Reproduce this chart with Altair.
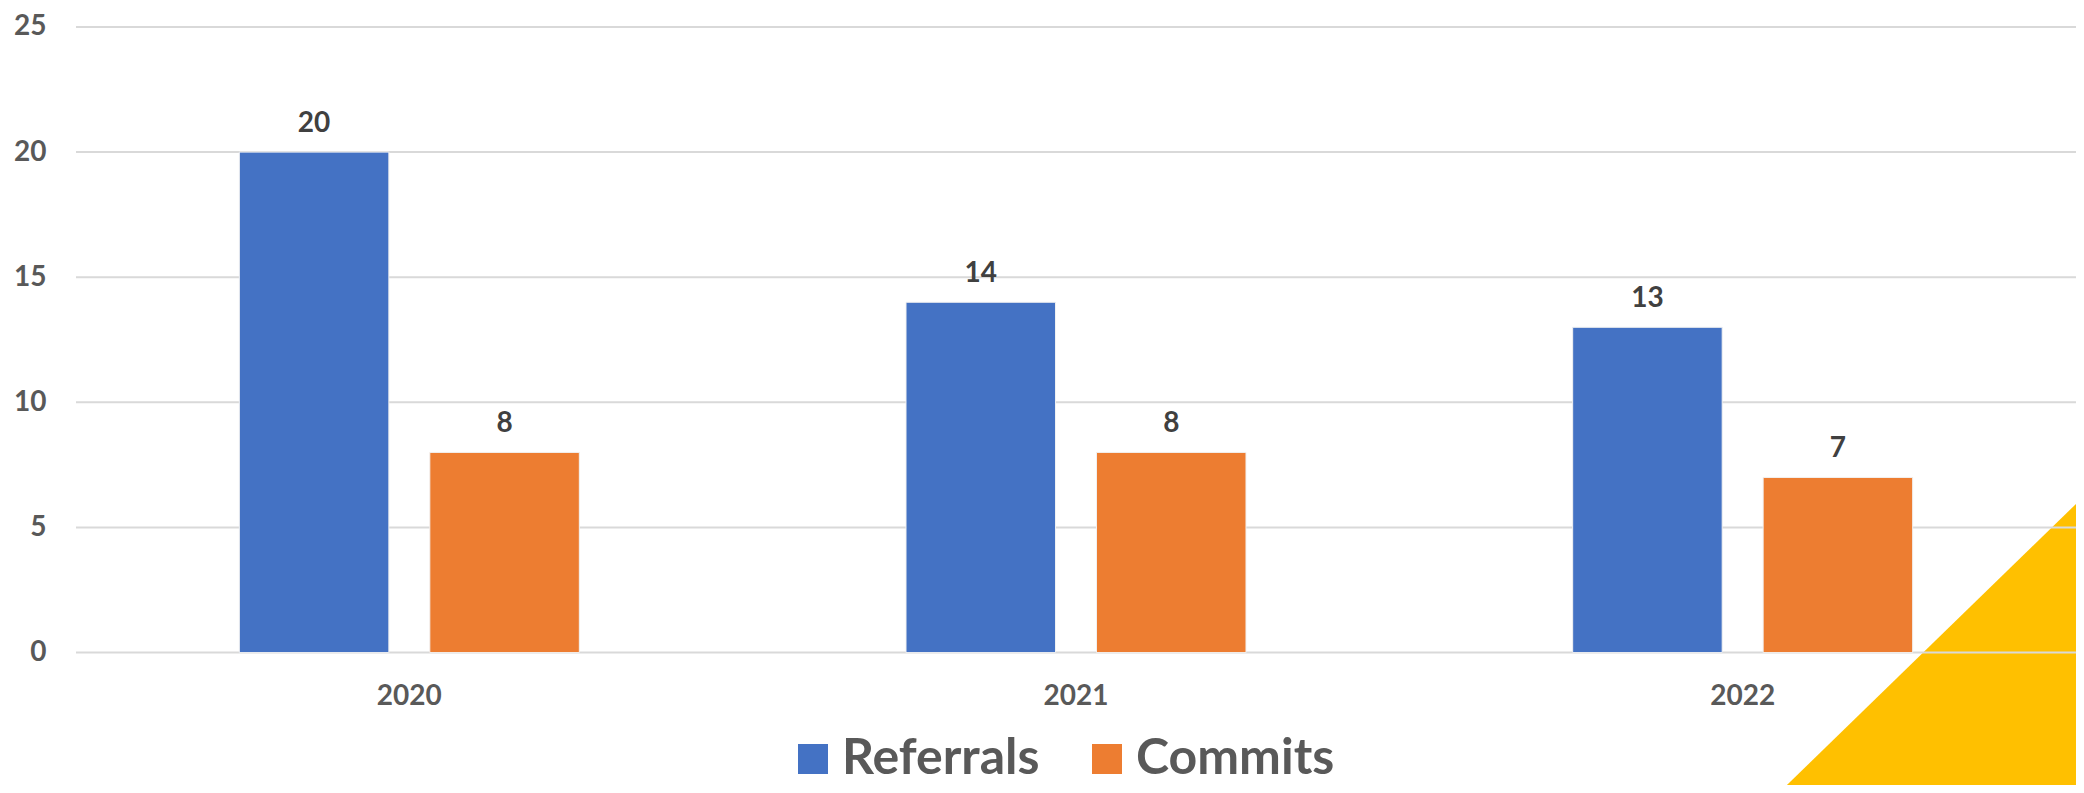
import altair as alt
import pandas as pd

# ---- data ----
years = ["2020", "2021", "2022"]
series = ["Referrals", "Commits"]
referrals = [20, 14, 13]
commits = [8, 8, 7]
colors = ["#4472C4", "#ED7D31"]
y_ticks = [0, 5, 10, 15, 20, 25]

# decorative yellow corner triangle (x as fraction of plot width, y in value units)
deco_x = [0.8515, 1.0]
deco_top = [-5.6, 5.94]
deco_bottom = [-5.6, -5.6]

rows = []
for i, yr in enumerate(years):
    rows.append({"year": yr, "series": "Referrals", "value": referrals[i]})
    rows.append({"year": yr, "series": "Commits", "value": commits[i]})
df = pd.DataFrame(rows)
tri = pd.DataFrame({"tx": deco_x, "top": deco_top, "bottom": deco_bottom})
grid_df = pd.DataFrame({"tick": y_ticks})

FONT = "Lato"
W, H = 2000, 625.6

yscale = alt.Scale(domain=[0, 25], nice=False, zero=True)
yaxis = alt.Axis(
    title=None, values=y_ticks, grid=False,
    domain=False, ticks=False, tickSize=0, labelPadding=30,
    labelFont=FONT, labelFontSize=28, labelFontWeight="bold", labelColor="#595959",
)
xaxis = alt.Axis(
    title=None, labelAngle=0, domain=False, ticks=False, tickSize=0, grid=False,
    labelPadding=30, labelBaseline="top",
    labelFont=FONT, labelFontSize=28, labelFontWeight="bold", labelColor="#595959",
)

base = alt.Chart(df).encode(
    x=alt.X("year:N", sort=years, scale=alt.Scale(paddingInner=0.49, paddingOuter=0.245), axis=xaxis),
    xOffset=alt.XOffset("series:N", sort=series,
                        scale=alt.Scale(domain=series, paddingInner=0.215, paddingOuter=0)),
    y=alt.Y("value:Q", scale=yscale, axis=yaxis),
)

bars = base.mark_bar(stroke="#F2F2F2", strokeWidth=1).encode(
    color=alt.Color(
        "series:N",
        scale=alt.Scale(domain=series, range=colors),
        legend=alt.Legend(
            title=None, orient="none", legendX=712, legendY=707, direction="horizontal",
            symbolType="square", symbolSize=900, symbolStrokeWidth=0,
            labelFont=FONT, labelFontSize=50, labelFontWeight="bold", labelColor="#595959",
            labelOffset=4, columnPadding=42, labelLimit=500, padding=0,
        ),
    )
)

labels = base.mark_text(
    dy=-20, baseline="alphabetic", align="center",
    font=FONT, fontSize=28, fontWeight="bold", color="#404040",
).encode(text=alt.Text("value:Q"))

deco = alt.Chart(tri).mark_area(color="#FFC000", clip=False).encode(
    x=alt.X("tx:Q", scale=alt.Scale(domain=[0, 1], nice=False, zero=False), axis=None),
    y=alt.Y("top:Q", scale=yscale, axis=yaxis),
    y2=alt.Y2("bottom:Q"),
)

gridlines = alt.Chart(grid_df).mark_rule(color="#D9D9D9", strokeWidth=2).encode(
    y=alt.Y("tick:Q", scale=yscale, axis=yaxis),
)

chart = (
    alt.layer(deco, gridlines, alt.layer(bars, labels))
    .resolve_scale(x="independent")
    .properties(
        width=W, height=H,
        autosize=alt.AutoSizeParams(type="none"),
        padding={"left": 68, "top": 19, "right": 0, "bottom": 132},
        background="white",
    )
    .configure_view(stroke=None)
)

chart.save("out.html", embed_options={"renderer": "svg", "actions": False})
